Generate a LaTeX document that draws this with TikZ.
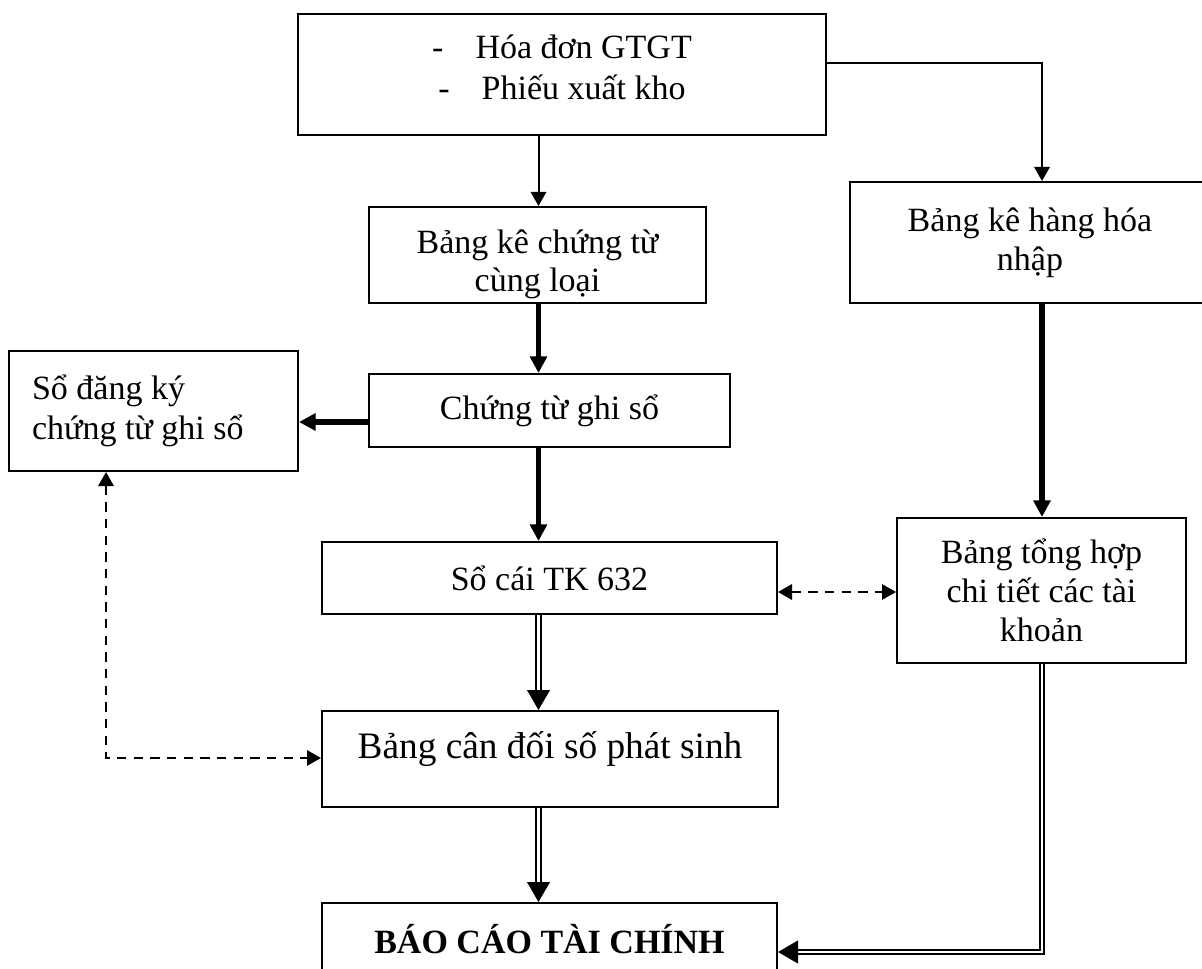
\documentclass[tikz,border=0pt]{standalone}
\usepackage{fontspec}
\setmainfont{Liberation Serif}
\usetikzlibrary{arrows.meta}
\begin{document}
\begin{tikzpicture}[x=0.75pt,y=-0.75pt,
  box/.style={draw, line width=1.5pt, inner sep=0pt, align=center, font=\fontsize{25.5}{29.5}\selectfont},
  thinarr/.style={line width=1.5pt, -{Triangle[length=10.5pt,width=11.5pt]}},
  thickarr/.style={line width=4.4pt, -{Triangle[length=12.5pt,width=12.5pt]}},
  dasharr/.style={line width=1.5pt, dash pattern=on 7pt off 5.5pt, {Triangle[length=10.5pt,width=11.5pt]}-{Triangle[length=10.5pt,width=11.5pt]}},
  dbl/.style={double, double distance=1.8pt, line width=1.5pt, -{Triangle[length=15pt,width=17pt]}}
]
\clip (0,0) rectangle (1202,969);
\fill[white] (0,0) rectangle (1202,969);

\node[box, minimum width=396pt, minimum height=90.75pt, font=\fontsize{25.5}{30.75}\selectfont] (top) at (562,74.5)
  {-\hspace{24pt}Hóa đơn GTGT\\-\hspace{24pt}Phiếu xuất kho\rule[-11pt]{0pt}{0pt}};
\node[box, minimum width=252.75pt, minimum height=72pt, font=\fontsize{25.5}{28.5}\selectfont] (bk1) at (537.5,255)
  {\rule{0pt}{32pt}Bảng kê chứng từ\\cùng loại};
\node[box, minimum width=270pt, minimum height=90.75pt] (bk2) at (1030,242.5)
  {Bảng kê hàng hóa\\nhập};
\node[box, minimum width=216.75pt, minimum height=90pt, inner xsep=17.25pt, text width=182.25pt, align=flush left] (sdk) at (153.5,411)
  {Sổ đăng ký\\chứng từ ghi sổ};
\node[box, minimum width=270.75pt, minimum height=54.75pt] (ctgs) at (549.5,410.5)
  {Chứng từ ghi sổ};
\node[box, minimum width=341.25pt, minimum height=54pt] (sc) at (549.5,578)
  {Sổ cái TK 632};
\node[box, minimum width=216.75pt, minimum height=108.75pt] (bth) at (1041.5,590.5)
  {Bảng tổng hợp\\chi tiết các tài\\khoản};
\node[box, minimum width=342pt, minimum height=72pt, font=\fontsize{28}{33}\selectfont] (bcd) at (550,759)
  {Bảng cân đối số phát sinh\rule[-21pt]{0pt}{0pt}};
\node[box, minimum width=341.25pt, minimum height=54pt, font=\fontsize{25.5}{29.5}\selectfont\bfseries] (bctc) at (549.5,939)
  {BÁO CÁO TÀI CHÍNH};

\coordinate (cx) at (538.5,0);
\coordinate (rx) at (1042,0);
\coordinate (lx) at (106,0);
\coordinate (ty) at (0,63);
\coordinate (ay) at (0,422);
\coordinate (dy) at (0,592);
\coordinate (by) at (0,758);
\coordinate (ey) at (0,952);

\draw[thinarr] (top.south -| cx) -- (bk1.north -| cx);
\draw[thinarr] (top.east |- ty) -| (bk2.north -| rx);
\draw[thickarr] (bk1.south -| cx) -- (ctgs.north -| cx);
\draw[thickarr] (ctgs.west |- ay) -- (sdk.east |- ay);
\draw[thickarr] (ctgs.south -| cx) -- (sc.north -| cx);
\draw[thickarr] (bk2.south -| rx) -- (bth.north -| rx);
\draw[dasharr] (sc.east |- dy) -- (bth.west |- dy);
\draw[dasharr] (sdk.south -| lx) |- (bcd.west |- by);
\draw[dbl] (sc.south -| cx) -- (bcd.north -| cx);
\draw[dbl] (bcd.south -| cx) -- (bctc.north -| cx);
\draw[dbl] (bth.south -| rx) |- (bctc.east |- ey);
\end{tikzpicture}
\end{document}
